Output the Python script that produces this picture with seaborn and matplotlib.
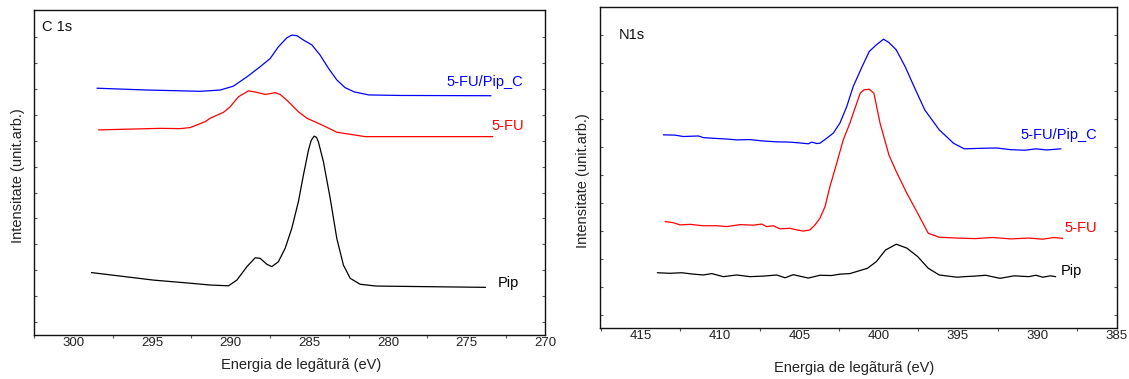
import numpy as np
import pandas as pd
import matplotlib
matplotlib.use("Agg")
import matplotlib.pyplot as plt
import seaborn as sns
from matplotlib.ticker import MultipleLocator

# ---------------- C 1s panel data ----------------
c_blue_E = [298.49, 295.32, 293.20, 291.93, 290.66, 289.82, 288.96, 288.12, 287.48, 286.96,
            286.42, 286.11, 285.79, 285.37, 284.83, 284.31, 283.78, 283.25, 282.72, 282.15,
            281.22, 279.22, 273.45]
c_blue_I = [9.03, 8.96, 8.93, 8.91, 8.96, 9.11, 9.47, 9.86, 10.18, 10.63,
            10.98, 11.08, 11.06, 10.89, 10.70, 10.31, 9.80, 9.35, 9.05, 8.89,
            8.77, 8.75, 8.74]

c_red_E = [298.39, 294.47, 293.20, 292.57, 292.06, 291.61, 291.30, 290.45, 290.03, 289.50,
           288.86, 288.33, 287.80, 287.48, 287.17, 286.85, 286.32, 285.69, 285.15, 284.52,
           283.88, 283.25, 282.40, 281.45, 273.34]
c_red_I = [7.42, 7.48, 7.47, 7.51, 7.63, 7.74, 7.87, 8.10, 8.31, 8.70,
           8.93, 8.87, 8.79, 8.82, 8.86, 8.79, 8.51, 8.12, 7.87, 7.70,
           7.52, 7.33, 7.25, 7.16, 7.16]

c_black_E = [298.84, 294.90, 292.57, 291.30, 290.13, 289.60, 288.96, 288.44, 288.12, 287.69,
             287.38, 286.96, 286.53, 286.11, 285.69, 285.37, 285.05, 284.88, 284.69, 284.54,
             284.42, 284.10, 283.67, 283.25, 282.83, 282.40, 281.77, 280.76, 273.80]
c_black_I = [1.91, 1.62, 1.50, 1.43, 1.40, 1.62, 2.14, 2.48, 2.46, 2.23,
             2.14, 2.33, 2.85, 3.62, 4.65, 5.68, 6.64, 7.01, 7.18, 7.13,
             6.96, 6.19, 4.78, 3.23, 2.20, 1.69, 1.46, 1.39, 1.34]

# ---------------- N 1s panel data ----------------
n_blue_E = [413.57, 412.83, 412.31, 411.36, 411.05, 410.20, 409.57, 408.94, 408.11, 407.27,
            406.42, 405.59, 404.96, 404.43, 404.22, 403.90, 403.70, 403.27, 402.86, 402.44,
            402.01, 401.60, 401.04, 400.59, 400.14, 399.69, 399.35, 398.89, 398.33, 397.77,
            397.09, 396.18, 395.28, 394.60, 393.48, 392.57, 391.67, 390.77, 390.09, 389.41,
            388.51]
n_blue_I = [6.43, 6.42, 6.37, 6.39, 6.33, 6.30, 6.28, 6.25, 6.26, 6.21,
            6.18, 6.17, 6.14, 6.11, 6.17, 6.12, 6.13, 6.31, 6.49, 6.85,
            7.44, 8.16, 8.87, 9.41, 9.65, 9.85, 9.73, 9.47, 8.87, 8.16,
            7.32, 6.61, 6.13, 5.93, 5.95, 5.96, 5.90, 5.88, 5.93, 5.89,
            5.93]

n_red_E = [413.46, 412.94, 412.52, 411.89, 411.05, 410.20, 409.57, 408.74, 407.90, 407.37,
           407.05, 406.64, 406.22, 405.59, 405.16, 404.75, 404.33, 404.01, 403.70, 403.38,
           403.07, 402.64, 402.23, 401.81, 401.60, 401.16, 400.93, 400.59, 400.30, 399.91,
           399.35, 398.89, 398.22, 397.54, 396.87, 396.18, 395.06, 393.93, 392.80, 391.67,
           390.54, 389.64, 388.96, 388.40]
n_red_I = [3.33, 3.29, 3.21, 3.23, 3.18, 3.18, 3.15, 3.22, 3.20, 3.24,
           3.15, 3.18, 3.07, 3.09, 3.03, 2.99, 3.03, 3.21, 3.45, 3.86,
           4.58, 5.42, 6.25, 6.85, 7.20, 7.92, 8.04, 8.06, 7.92, 6.85,
           5.71, 5.12, 4.34, 3.63, 2.91, 2.77, 2.74, 2.72, 2.76, 2.71,
           2.74, 2.70, 2.76, 2.73]

n_black_E = [413.95, 413.15, 412.41, 411.68, 411.05, 410.52, 409.79, 408.94, 408.11, 407.27,
             406.42, 405.90, 405.38, 404.43, 403.70, 402.96, 402.44, 401.81, 400.70, 400.14,
             399.57, 398.89, 398.22, 397.54, 396.87, 396.18, 395.06, 394.60, 393.93, 393.25,
             392.35, 391.45, 390.54, 390.09, 389.64, 389.18, 388.84]
n_black_I = [1.50, 1.48, 1.50, 1.45, 1.42, 1.47, 1.36, 1.42, 1.36, 1.38,
             1.42, 1.32, 1.43, 1.31, 1.41, 1.40, 1.45, 1.47, 1.66, 1.90,
             2.31, 2.52, 2.38, 2.08, 1.66, 1.42, 1.34, 1.36, 1.38, 1.41,
             1.30, 1.39, 1.36, 1.41, 1.34, 1.39, 1.36]

series_names = ["5-FU/Pip_C", "5-FU", "Pip"]
series_colors = ["#0000ff", "#ff0000", "#000000"]
panel_titles = ["C 1s", "N1s"]
x_label = "Energia de legãturã (eV)"
y_label = "Intensitate (unit.arb.)"
c_xticks = [300, 295, 290, 285, 280, 275, 270]
n_xticks = [415, 410, 405, 400, 395, 390, 385]

sns.set_theme(style="white")
plt.rcParams["font.family"] = ["Liberation Sans", "DejaVu Sans"]

fig = plt.figure(figsize=(11.29, 3.79), dpi=100)
axL = fig.add_axes([0.0300, 0.1161, 0.4530, 0.8575])
axR = fig.add_axes([0.5312, 0.1346, 0.4578, 0.8469])


def make_df(Es, Is):
    frames = []
    for name, E, I in zip(series_names, Es, Is):
        frames.append(pd.DataFrame({"E": E, "I": I, "series": name}))
    return pd.concat(frames, ignore_index=True)


dfC = make_df([c_blue_E, c_red_E, c_black_E], [c_blue_I, c_red_I, c_black_I])
dfN = make_df([n_blue_E, n_red_E, n_black_E], [n_blue_I, n_red_I, n_black_I])
palette = dict(zip(series_names, series_colors))

for ax, df in [(axL, dfC), (axR, dfN)]:
    sns.lineplot(data=df, x="E", y="I", hue="series", palette=palette, sort=False,
                 estimator=None, linewidth=0.9, legend=False, ax=ax)

# limits and ticks
axL.set_xlim(302.5, 270)
axL.set_ylim(-0.5, 12.05)
axR.set_xlim(417.58, 385)
axR.set_ylim(-0.475, 11.0)

for ax, ticks, nyt in [(axL, c_xticks, 12), (axR, n_xticks, 11)]:
    ax.set_xticks(ticks)
    ax.set_xticklabels([str(t) for t in ticks])
    ax.xaxis.set_minor_locator(MultipleLocator(2.5))
    ax.set_yticks(list(range(nyt)))
    ax.set_yticklabels([])
    ax.tick_params(axis="x", which="major", direction="in", length=0, pad=1.5,
                   labelsize=9.5, colors="#222222")
    ax.tick_params(axis="x", which="minor", direction="out", length=2, width=0.8,
                   color="#555555", bottom=True)
    ax.tick_params(axis="y", which="major", direction="in", length=2.5, width=0.8,
                   left=True, right=True, color="#555555")
    for sp in ax.spines.values():
        sp.set_visible(True)
        sp.set_color("#111111")
        sp.set_linewidth(1.0)
    ax.set_xlabel(x_label, fontsize=10.5, color="#222222")
    ax.set_ylabel(y_label, fontsize=10.5, color="#222222")
    ax.xaxis.label.set_va("center")
    ax.yaxis.label.set_va("center")

axL.xaxis.set_label_coords(0.522, -0.092)
axL.yaxis.set_label_coords(-0.031, 0.489)
axR.xaxis.set_label_coords(0.492, -0.125)
axR.yaxis.set_label_coords(-0.033, 0.458)

axL.text(0.0153, 0.949, panel_titles[0], transform=axL.transAxes, ha="left", va="center",
         fontsize=10.5, color="#111111")
axR.text(0.036, 0.913, panel_titles[1], transform=axR.transAxes, ha="left", va="center",
         fontsize=10.5, color="#111111")

# series labels
c_lab_pos = [(271.44, 9.28), (271.32, 7.57), (271.70, 1.51)]
n_lab_pos = [(386.25, 6.43), (386.20, 3.11), (387.16, 1.575)]
for ax, pos in [(axL, c_lab_pos), (axR, n_lab_pos)]:
    for (x, y), name, col in zip(pos, series_names, series_colors):
        ax.text(x, y, name, color=col, ha="right", va="center", fontsize=10.5)

fig.savefig("out.png", dpi=100)
